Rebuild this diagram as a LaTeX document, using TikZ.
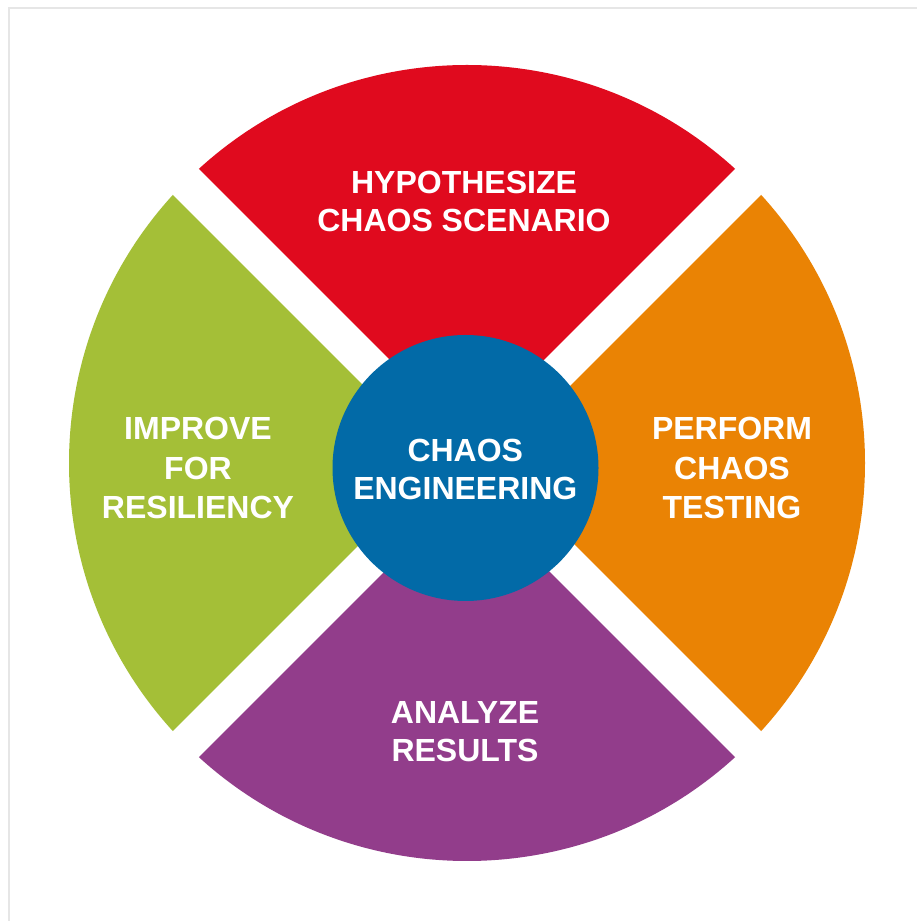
\documentclass[tikz,border=0pt]{standalone}
\usepackage{fontspec}
\setmainfont{Liberation Sans}
\usetikzlibrary{calc}
\definecolor{cred}{HTML}{E00A1E}
\definecolor{corange}{HTML}{EA8304}
\definecolor{cgreen}{HTML}{A4BF37}
\definecolor{cpurple}{HTML}{923D8B}
\definecolor{cblue}{HTML}{026AA7}
\definecolor{cframe}{HTML}{E6E6E6}
\tikzset{
  sector/.style={draw=none},
  label/.style={text=white, inner sep=0pt, anchor=base,
    font=\bfseries\fontsize{32}{38}\selectfont},
}
\begin{document}
\begin{tikzpicture}[x=1pt,y=1pt]
  \useasboundingbox (0,0) rectangle (917,921);
  \fill[white] (0,0) rectangle (917,921);
  % thin frame along the top and left edges
  \draw[cframe, line width=2pt] (9,-5) -- (9,913) -- (930,913);

  \coordinate (O) at (467,458);
  \def\R{398}
  % four quarter sectors
  \fill[cred]    (O) -- ++(45:\R)  arc[start angle=45,  end angle=135, radius=\R] -- cycle;
  \fill[cgreen]  (O) -- ++(135:\R) arc[start angle=135, end angle=225, radius=\R] -- cycle;
  \fill[cpurple] (O) -- ++(225:\R) arc[start angle=225, end angle=315, radius=\R] -- cycle;
  \fill[corange] (O) -- ++(-45:\R) arc[start angle=-45, end angle=45,  radius=\R] -- cycle;
  % white gaps between the sectors
  \draw[white, line width=36.6pt] ($(O)+(45:402)$) -- ($(O)+(225:402)$);
  \draw[white, line width=36.6pt] ($(O)+(135:402)$) -- ($(O)+(-45:402)$);

  % hub
  \fill[cblue] (465.5,453) circle[radius=133];

  % labels
  \node[label] (hyp1) at (464,727.7) {HYPOTHESIZE};
  \node[label] (hyp2) at (464,689.3) {CHAOS SCENARIO};

  \node[label] (imp1) at (198,481) {IMPROVE};
  \node[label] (imp2) at (198,441) {FOR};
  \node[label] (imp3) at (198,402.7) {RESILIENCY};

  \node[label] (per1) at (732,481) {PERFORM};
  \node[label] (per2) at (732,441) {CHAOS};
  \node[label] (per3) at (732,402.7) {TESTING};

  \node[label] (ana1) at (465,197.7) {ANALYZE};
  \node[label] (ana2) at (465,159.3) {RESULTS};

  \node[label] (hub1) at (465.3,459.7) {CHAOS};
  \node[label] (hub2) at (465.3,421.3) {ENGINEERING};
\end{tikzpicture}
\end{document}
